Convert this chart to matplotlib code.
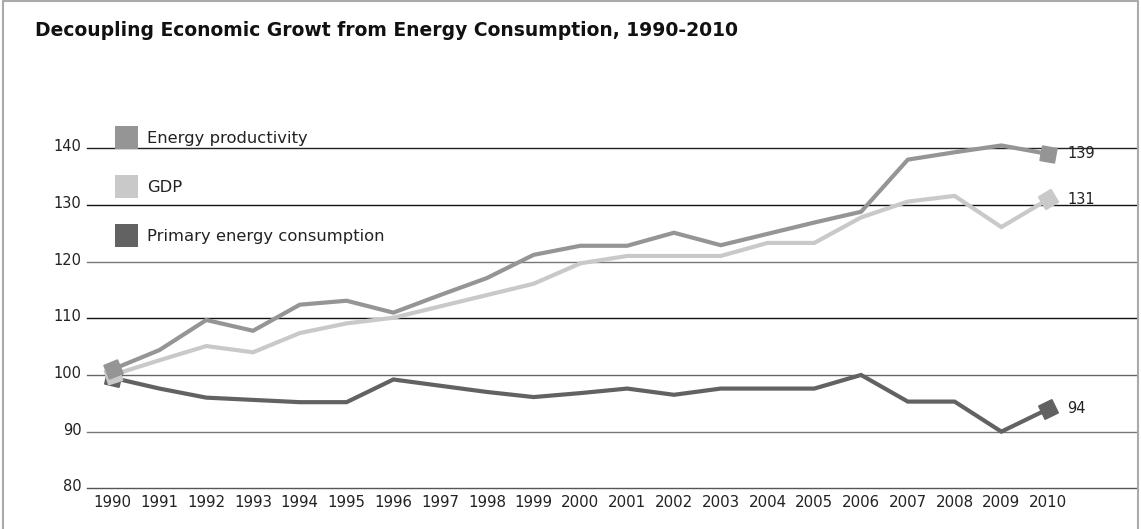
import numpy as np
import matplotlib
matplotlib.use("Agg")
import matplotlib.pyplot as plt
from matplotlib import font_manager
from matplotlib.lines import Line2D
from matplotlib.patches import Patch
import matplotlib.transforms as mtransforms

years = list(range(1990, 2011))

energy_productivity = [101, 104.4, 109.7, 107.8, 112.4, 113.1, 111.0, 114.1, 117.1, 121.2,
                       122.8, 122.8, 125.1, 122.9, 124.9, 126.9, 128.8, 138.0, 139.3, 140.5, 139]
gdp = [100, 102.6, 105.1, 104.0, 107.4, 109.1, 110.1, 112.1, 114.1, 116.1,
       119.7, 121.0, 121.0, 121.0, 123.3, 123.3, 127.8, 130.6, 131.6, 126.1, 131]
primary_energy = [99.5, 97.6, 96.0, 95.6, 95.2, 95.2, 99.2, 98.1, 97.0, 96.1,
                  96.8, 97.6, 96.5, 97.6, 97.6, 97.6, 100.0, 95.3, 95.3, 90.0, 94]

series_names = ["Energy productivity", "GDP", "Primary energy consumption"]
series_colors = ["#959595", "#c9c9c9", "#626262"]
y_ticks = [80, 90, 100, 110, 120, 130, 140]
grid_colors = ["#555555", "#777777", "#666666", "#111111", "#777777", "#111111", "#222222"]

title = "Decoupling Economic Growt from Energy Consumption, 1990-2010"

names = {f.name for f in font_manager.fontManager.ttflist}
narrow = "Liberation Sans Narrow" in names
title_font = "Liberation Sans Narrow" if narrow else "DejaVu Sans"
title_size = 17 if narrow else 13.5

W, H = 1141, 529
fig = plt.figure(figsize=(W / 100, H / 100), dpi=100)

# axes placed in pixels to follow the reference
ax_l, ax_r, ax_b, ax_t = 87, 1137, 488.3, 148.3
ax = fig.add_axes([ax_l / W, 1 - ax_b / H, (ax_r - ax_l) / W, (ax_b - ax_t) / H])
ax.set_ylim(80, 140)
ax.set_xlim(1990 - 0.55, 1990 + 21.9)
for s in ax.spines.values():
    s.set_visible(False)

for yv, c in zip(y_ticks, grid_colors):
    ax.axhline(yv, color=c, lw=1.0, zorder=1, clip_on=False)

ax.set_yticks(y_ticks)
ax.set_xticks(years)
ax.tick_params(length=0, labelcolor="#222222")
ax.tick_params(axis="y", pad=4, labelsize=10.5)
ax.tick_params(axis="x", pad=5, labelsize=10.8)
shift = mtransforms.ScaledTranslation(0, 3 / 100, fig.dpi_scale_trans)
for lab in ax.get_yticklabels():
    lab.set_transform(lab.get_transform() + shift)


def seg_angle(x0, y0, x1, y1):
    p0 = ax.transData.transform((x0, y0))
    p1 = ax.transData.transform((x1, y1))
    return np.degrees(np.arctan2(p1[1] - p0[1], p1[0] - p0[0]))


all_series = [primary_energy, gdp, energy_productivity]
order_colors = [series_colors[2], series_colors[1], series_colors[0]]

for vals, col in zip(all_series, order_colors):
    ax.plot(years, vals, color=col, lw=3, solid_joinstyle="miter", clip_on=False, zorder=3)
    a0 = seg_angle(years[0], vals[0], years[1], vals[1])
    a1 = seg_angle(years[-2], vals[-2], years[-1], vals[-1])
    ax.plot(years[0], vals[0], marker=(4, 0, 45 + a0), ms=15, color=col,
            ls="none", clip_on=False, zorder=4)
    ax.plot(years[-1], vals[-1], marker=(4, 0, 45 + a1), ms=15, color=col,
            ls="none", clip_on=False, zorder=4)
    ax.annotate(f"{vals[-1]:.0f}", (years[-1], vals[-1]), xytext=(14, 0),
                textcoords="offset points", va="center", ha="left",
                fontsize=10.5, color="#222222", annotation_clip=False)

handles = [Patch(facecolor=c, edgecolor="none") for c in series_colors]
fig.legend(handles, series_names, loc="upper left",
           bbox_to_anchor=(115 / W, 1 - 126 / H), frameon=False,
           fontsize=11.8, labelcolor="#222222", handlelength=1.4, handleheight=1.8,
           handletextpad=0.55, labelspacing=1.57, borderpad=0, borderaxespad=0)

fig.text(35 / W, 1 - 30 / H, title, fontsize=title_size, fontweight="bold",
         family=title_font, ha="left", va="center", color="#111111")

# grey frame around the chart (open at the bottom like the reference)
bx0, bx1, by1 = 3 / W, 1138 / W, 1 - 1 / H
fig.add_artist(Line2D([bx0, bx0, bx1, bx1], [0, by1, by1, 0],
                      transform=fig.transFigure, color="#aaaaaa", lw=1.5))

fig.savefig("out.png", dpi=100)
